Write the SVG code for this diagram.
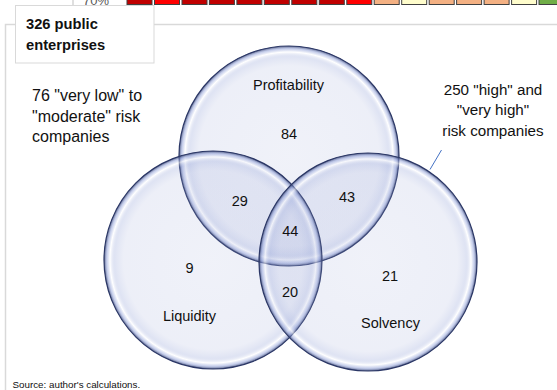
<svg xmlns="http://www.w3.org/2000/svg" width="557" height="390" viewBox="0 0 557 390">
<style>
.cell{stroke:#404040;stroke-width:1}
.dr{fill:#C00000}.r{fill:#FF0000}.pe{fill:#F4B183}.ye{fill:#FFFDCC}.gr{fill:#70AD47}
.t{font-family:"Liberation Sans",Arial,sans-serif;fill:#111}
.lbl{font-size:14.5px;text-anchor:middle}
.bub{fill:url(#bub);stroke:#2B3766;stroke-width:1.2}
</style>
<defs>
<radialGradient id="bub" cx="50%" cy="50%" r="50%">
<stop offset="0" stop-color="#9aa6d6" stop-opacity="0.15"/>
<stop offset="0.82" stop-color="#9aa6d6" stop-opacity="0.18"/>
<stop offset="0.9" stop-color="#8596d2" stop-opacity="0.26"/>
<stop offset="0.945" stop-color="#ffffff" stop-opacity="0.55"/>
<stop offset="0.975" stop-color="#8a9bd6" stop-opacity="0.5"/>
<stop offset="1" stop-color="#2a3766" stop-opacity="0.8"/>
</radialGradient>
</defs>
<rect width="557" height="390" fill="#fff"/>
<g id="topstrip">
<line x1="73" y1="0" x2="73" y2="5" stroke="#bfbfbf" stroke-width="1"/>
<text x="83" y="5" class="t" style="font-size:13px;fill:#595959">70%</text>
<rect class="cell dr" x="127" y="-1" width="25" height="5.5"/>
<rect class="cell r" x="154.5" y="-1" width="25" height="5.5"/>
<rect class="cell dr" x="182" y="-1" width="25" height="5.5"/>
<rect class="cell dr" x="209.4" y="-1" width="25" height="5.5"/>
<rect class="cell dr" x="236.9" y="-1" width="25" height="5.5"/>
<rect class="cell dr" x="264.3" y="-1" width="25" height="5.5"/>
<rect class="cell dr" x="291.8" y="-1" width="25" height="5.5"/>
<rect class="cell dr" x="319.3" y="-1" width="25" height="5.5"/>
<rect class="cell r" x="346.8" y="-1" width="25" height="5.5"/>
<rect class="cell pe" x="374.2" y="-1" width="25" height="5.5"/>
<rect class="cell ye" x="401.7" y="-1" width="25" height="5.5"/>
<rect class="cell pe" x="429.2" y="-1" width="25" height="5.5"/>
<rect class="cell pe" x="456.6" y="-1" width="25" height="5.5"/>
<rect class="cell pe" x="484.1" y="-1" width="25" height="5.5"/>
<rect class="cell ye" x="511.6" y="-1" width="25" height="5.5"/>
<rect class="cell gr" x="539" y="-1" width="25" height="5.5"/>
</g>
<g id="frame">
<path d="M5.5 390 V24.5 H560" fill="none" stroke="#d9d9d9" stroke-width="1.5"/>
</g>
<g id="title">
<rect x="15.5" y="5.5" width="138.5" height="57.5" fill="#fff" stroke="#d9d9d9" stroke-width="1"/>
<text class="t" x="26" y="28.5" style="font-size:14.7px;font-weight:bold">326 public</text>
<text class="t" x="26" y="49.5" style="font-size:14.7px;font-weight:bold">enterprises</text>
</g>
<g id="profitability">
<circle class="bub" cx="289" cy="156" r="110"/>
<text class="t lbl" x="288.5" y="90">Profitability</text>
<text class="t lbl" x="289" y="138.5">84</text>
</g>
<g id="liquidity">
<circle class="bub" cx="213" cy="260" r="109"/>
<text class="t lbl" x="189.5" y="272.5">9</text>
<text class="t lbl" x="189.5" y="320.5">Liquidity</text>
</g>
<g id="solvency">
<circle class="bub" cx="368" cy="262" r="109"/>
<text class="t lbl" x="390" y="280.5">21</text>
<text class="t lbl" x="390.5" y="328">Solvency</text>
</g>
<g id="overlaps">
<text class="t lbl" x="239.7" y="205.5">29</text>
<text class="t lbl" x="347" y="201.5">43</text>
<text class="t lbl" x="290.3" y="236">44</text>
<text class="t lbl" x="290" y="296.5">20</text>
</g>
<g id="lowrisk">
<text class="t" x="32" y="101" style="font-size:16px">76 "very low" to</text>
<text class="t" x="32" y="122" style="font-size:16px">"moderate" risk</text>
<text class="t" x="32" y="142" style="font-size:16px">companies</text>
</g>
<g id="highrisk">
<text class="t" x="493" y="94.5" style="font-size:15.2px;text-anchor:middle">250 "high" and</text>
<text class="t" x="493" y="115" style="font-size:15.2px;text-anchor:middle">"very high"</text>
<text class="t" x="493" y="135.5" style="font-size:15.2px;text-anchor:middle">risk companies</text>
</g>
<g id="connectors">
<line x1="441.5" y1="150" x2="430" y2="169.5" stroke="#4472C4" stroke-width="1"/>
</g>
<g id="source">
<text class="t" x="12.5" y="388" style="font-size:9.8px">Source: author's calculations.</text>
</g>
</svg>
